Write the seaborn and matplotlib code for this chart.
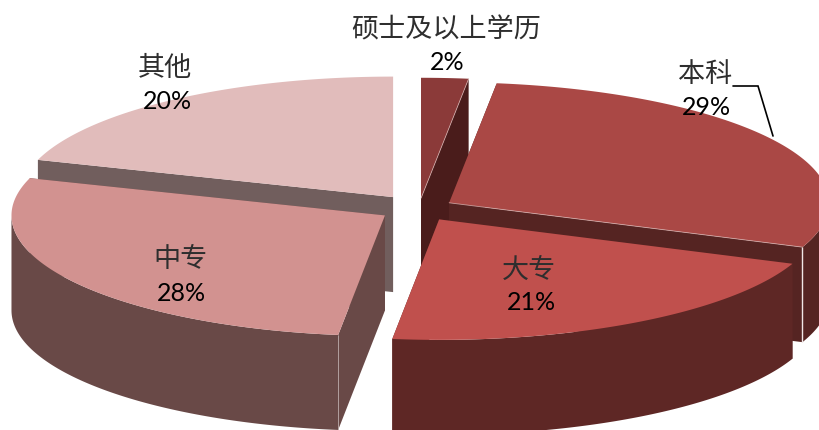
import numpy as np
import matplotlib
matplotlib.use("Agg")
import matplotlib.pyplot as plt
import seaborn as sns

# Education breakdown, clockwise from twelve o'clock
categories = ["硕士及以上学历", "本科", "大专", "中专", "其他"]
shares = [2, 29, 21, 28, 20]
explode = [0.085, 0.093, 0.105, 0.107, 0.117]

sns.set_theme(style="white")
plt.rcParams["font.family"] = ["Noto Sans CJK SC", "DejaVu Sans"]

top_colors = sns.color_palette(["#8B3A39", "#AA4845", "#C0504D", "#D29290", "#E1BCBB"])
side_colors = sns.color_palette(["#4A1C1B", "#552422", "#5E2725", "#694947", "#715E5D"])

# Projected pie geometry; the right half reads slightly wider than the left
CX, CY = 419.0, 209.5
RX, RY = 376.5, 120.5
RX_RIGHT, RX_LEFT = 380.0, 373.5
DEPTH = 95.0
DRAW_ORDER = [0, 4, 1, 3, 2]  # back to front

fig = plt.figure(figsize=(8.19, 4.31), dpi=100)
ax = fig.add_axes([0, 0, 1, 1])
ax.set_xlim(0, 819)
ax.set_ylim(431, 0)
ax.set_axis_off()

edges = np.cumsum([0] + shares) / sum(shares) * 2 * np.pi


def rim(theta, ox, oy):
    s = np.sin(theta)
    return ox + np.where(s >= 0, RX_RIGHT, RX_LEFT) * s, oy - RY * np.cos(theta)


for i in DRAW_ORDER:
    t0, t1 = edges[i], edges[i + 1]
    mid = (t0 + t1) / 2
    ox = CX + explode[i] * RX * np.sin(mid)
    oy = CY - explode[i] * RY * np.cos(mid)
    side, top = side_colors[i], top_colors[i]

    # radial walls
    for t in (t0, t1):
        ex, ey = rim(t, ox, oy)
        ax.fill([ox, ex, ex, ox], [oy, ey, ey + DEPTH, oy + DEPTH], color=side, lw=0)

    # outer band, front half of the rim only
    lo, hi = max(t0, np.pi / 2), min(t1, 3 * np.pi / 2)
    if hi > lo:
        th = np.linspace(lo, hi, 120)
        bx, by = rim(th, ox, oy)
        ax.fill(np.r_[bx, bx[::-1]], np.r_[by, by[::-1] + DEPTH], color=side, lw=0)

    # top face
    th = np.linspace(t0, t1, 160)
    tx, ty = rim(th, ox, oy)
    ax.fill(np.r_[ox, tx], np.r_[oy, ty], color=top, lw=0)

    # lit seams where the faces meet
    ex, ey = rim(t1, ox, oy)
    if i == 1:
        ax.plot([ex, ex], [ey, ey + DEPTH], color="#F0E6E6", lw=1.0, solid_capstyle="butt")
    if i in (0, 1):
        ax.plot([ox, ex], [oy, ey], color="#D9B5B3", lw=0.6, alpha=0.8)
    if i == 3:
        sx, sy = rim(t0, ox, oy)
        ax.plot([sx, sx], [sy, sy + DEPTH], color="#B9A9A8", lw=0.6, solid_capstyle="butt")

# Leader from the 本科 label to its rim
ax.plot([733, 758, 773], [87, 87, 137], color="black", lw=1.2, solid_joinstyle="miter")

# Category and percentage labels
name_pos = [(446, 29.5), (705, 74.5), (529, 270), (181, 259.5), (165, 68.5)]
pct_pos = [(447, 62), (706, 107.5), (531, 303), (181, 293.5), (167, 101.5)]
for name, val, (nx, ny), (px, py) in zip(categories, shares, name_pos, pct_pos):
    ax.text(nx, ny, name, ha="center", va="center", fontsize=19.5, color="#2E2E2E",
            family=["Noto Sans CJK SC", "DejaVu Sans"], fontweight="light")
    ax.text(px, py, f"{val}%", ha="center", va="center", fontsize=18, color="black",
            family=["Lato", "DejaVu Sans"])

fig.savefig("out.png", dpi=100)
